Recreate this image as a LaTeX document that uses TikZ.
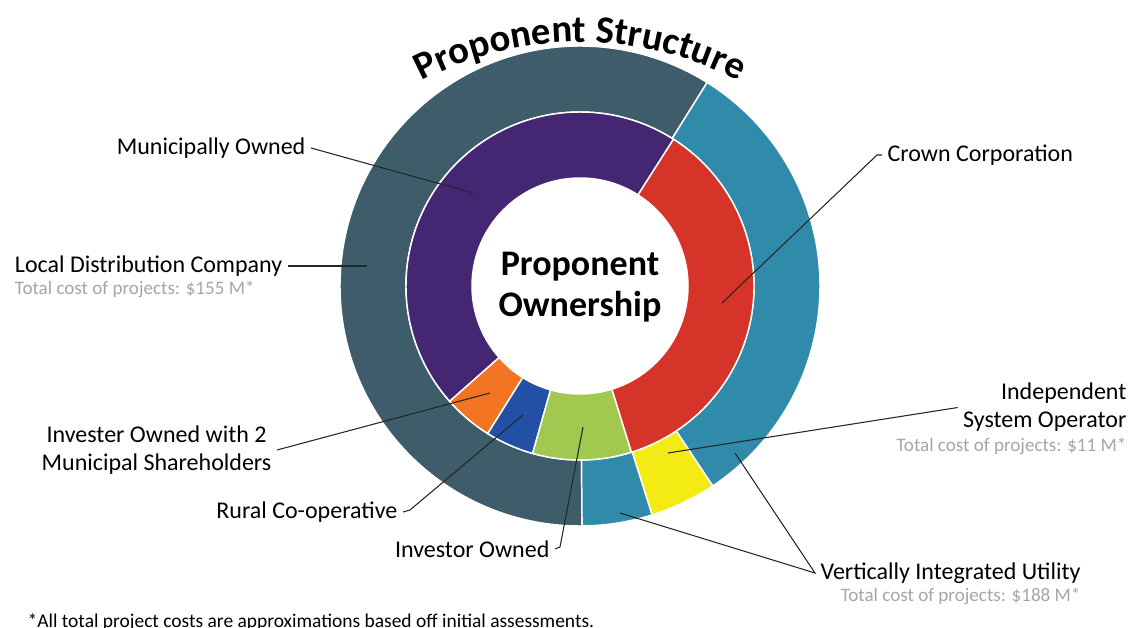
\documentclass[tikz,border=0pt]{standalone}
\usepackage{fontspec}
\setmainfont{Carlito}
\usetikzlibrary{positioning,decorations.text}

\definecolor{pslate}{HTML}{3F5C6A}
\definecolor{pteal}{HTML}{2F8BA9}
\definecolor{pyellow}{HTML}{F5EB14}
\definecolor{ppurple}{HTML}{452673}
\definecolor{pred}{HTML}{D63428}
\definecolor{porange}{HTML}{F37422}
\definecolor{pblue}{HTML}{2250A4}
\definecolor{pgreen}{HTML}{A1C94F}
\definecolor{costgray}{HTML}{A6A6A6}

\newcommand{\ringpart}[5]{\fill[#1,draw=white,line width=1.1pt] (#4:#2) arc[start angle=#4,end angle=#5,radius=#2] -- (#5:#3) arc[start angle=#5,end angle=#4,radius=#3] -- cycle;}
\newcommand{\titlefont}{\fontsize{29}{30}\selectfont\bfseries}

\begin{document}
\begin{tikzpicture}[
        x=0.75pt, y=0.75pt,
        every node/.append style={inner xsep=4pt, inner ysep=0pt},
        lbl/.style={font=\fontsize{18}{21}\selectfont},
        cost/.style={font=\fontsize{14.3}{16}\selectfont, text=costgray},
        lead/.style={draw=black!85, line width=0.8pt}
    ]
        \useasboundingbox (-580,-342) rectangle (552,286);

        \foreach \c/\a/\b in {pslate/58/270.5, pteal/270.5/287.5, pyellow/287.5/303.6, pteal/303.6/418}
            {\ringpart{\c}{174}{240}{\a}{\b}}
        \foreach \c/\a/\b in {ppurple/57.5/221.5, porange/221.5/238, pblue/238/254.2, pgreen/254.2/287.2, pred/287.2/417.5}
            {\ringpart{\c}{108}{174}{\a}{\b}}

        \path[decorate, decoration={text along path, text align=center, text={|\titlefont|Proponent Structure}}]
            (0,-96) ++(120:340) arc[start angle=120, end angle=60, radius=340];

        \node[font=\fontsize{27}{31}\selectfont\bfseries, align=center] (core) at (0,-1) {Proponent\\Ownership};

        \coordinate (munipt) at (-107,93);
        \coordinate (ldcpt) at (-213,20);
        \coordinate (crownpt) at (142,-17);
        \coordinate (isopt) at (88,-167);
        \coordinate (viupta) at (155,-167);
        \coordinate (viuptb) at (40,-227);
        \coordinate (invmpt) at (-90,-107);
        \coordinate (ruralpt) at (-57,-129);
        \coordinate (invopt) at (3,-141);

        \node[lbl, anchor=east] (muni) at (-269,138) {Municipally Owned};
        \node[lbl, anchor=east] (ldc) at (-292,20) {Local Distribution Company};
        \node[cost, below=3pt of ldc.south west, anchor=north west] (ldccost) {Total cost of projects: \$155 M*};
        \node[lbl, anchor=west] (crown) at (302,131) {Crown Corporation};
        \node[lbl, align=right, anchor=north east] (iso) at (552,-97) {Independent\\System Operator};
        \node[cost, below=4pt of iso.south east, anchor=north east] (isocost) {Total cost of projects: \$11 M*};
        \node[lbl, anchor=west] (viu) at (235,-287) {Vertically Integrated Utility};
        \node[cost, below=3pt of viu.south east, anchor=north east] (viucost) {Total cost of projects: \$188 M*};
        \node[lbl, align=center, anchor=east] (invm) at (-303,-164) {Invester Owned with 2\\Municipal Shareholders};
        \node[lbl, anchor=east] (rural) at (-177,-226) {Rural Co-operative};
        \node[lbl, anchor=east] (invo) at (-25,-263) {Investor Owned};
        \node[font=\fontsize{14.6}{16}\selectfont, anchor=base west] (note) at (-558,-341.5) {*All total project costs are approximations based off initial assessments.};

        \draw[lead] (muni.east) -- (munipt);
        \draw[lead] (ldc.east) -- (ldcpt);
        \draw[lead] (crown.west) -- ++(-5,0) -- (crownpt);
        \draw[lead] (iso.west) -- (isopt);
        \draw[lead] (viupta) -- (viu.west) -- (viuptb);
        \draw[lead] (invm.east) -- (invmpt);
        \draw[lead] (rural.east) -- ++(7,2) -- (ruralpt);
        \draw[lead] (invo.east) -- ++(5,2) -- (invopt);
    \end{tikzpicture}
\end{document}
